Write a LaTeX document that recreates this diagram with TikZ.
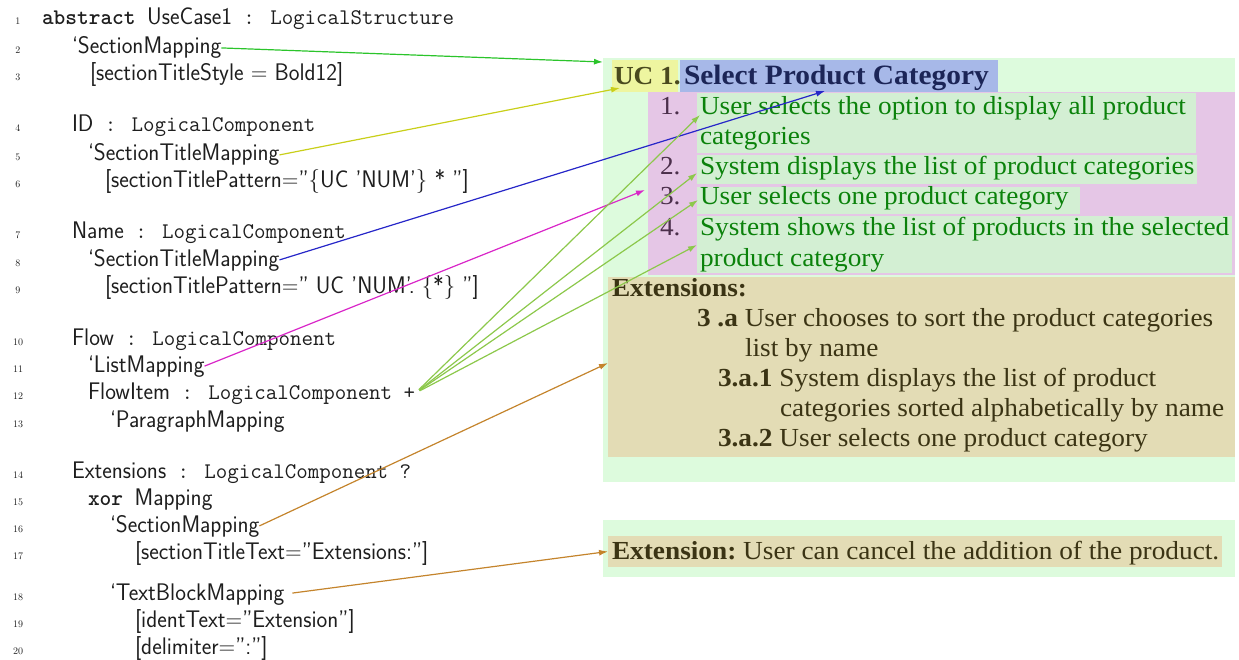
\documentclass[tikz,border=0pt]{standalone}
\usepackage{fontspec}
\usepackage{graphicx}
\usetikzlibrary{arrows.meta,calc}
\newfontfamily\docserif{Liberation Serif}[FakeStretch=1.05]

% palette
\definecolor{codeink}{HTML}{1E1E1E}
\definecolor{pagegreen}{HTML}{DDFBDD}
\definecolor{ucyellow}{HTML}{EEF5A0}
\definecolor{titleblue}{HTML}{A7B8E8}
\definecolor{listpink}{HTML}{E5C6E6}
\definecolor{itemgreen}{HTML}{D3EFD3}
\definecolor{exttan}{HTML}{E3DCB5}
\definecolor{inkgreen}{HTML}{0B820B}
\definecolor{inknavy}{HTML}{1C2557}
\definecolor{inkolive}{HTML}{4A4A1E}
\definecolor{inkpurple}{HTML}{4B2F4B}
\definecolor{inkbrown}{HTML}{3B3414}
\definecolor{lnkgreen}{HTML}{2BC42B}
\definecolor{lnkyellow}{HTML}{C9CF1A}
\definecolor{lnkblue}{HTML}{2626C8}
\definecolor{lnkmagenta}{HTML}{D926C8}
\definecolor{lnkflow}{HTML}{8CC84B}
\definecolor{lnkbrown}{HTML}{C4842C}

% code fonts: narrow sans for names, mono for keywords and types
\newcommand{\csf}[1]{\scalebox{0.95}[1]{\fontsize{24}{28}\selectfont\sffamily #1}}
\newcommand{\ctt}[1]{{\fontsize{22.3}{26}\selectfont\ttfamily #1}}
\newcommand{\ckw}[1]{{\fontsize{22.3}{26}\selectfont\ttfamily\bfseries #1}}

\tikzset{
  code/.style={anchor=base west, inner sep=0pt, outer sep=0pt, text=codeink},
  lineno/.style={anchor=base, inner sep=0pt, text=codeink, font=\fontsize{10}{12}\selectfont},
  panel/.style={anchor=north west, inner sep=0pt, outer sep=0pt, minimum width=#1},
  doc/.style={anchor=base west, inner sep=0pt, outer sep=0pt, font=\docserif\fontsize{26}{30}\selectfont},
  link/.style={-{Latex[length=9pt,width=6pt]}, line width=1.2pt},
}

\begin{document}
\begin{tikzpicture}[x=1pt,y=-1pt]
\useasboundingbox (0,0) rectangle (1239,660);

% ---------- rendered document (right) ----------
\node[panel=632, minimum height=424, fill=pagegreen] (pageA) at (603,58) {};
\node[panel=66,  minimum height=32,  fill=ucyellow]  (ucbox) at (612,60) {};
\node[panel=318, minimum height=32,  fill=titleblue] (titlebox) at (680,60) {};
\node[panel=587, minimum height=183, fill=listpink]  (listbox) at (648,92) {};
\node[panel=499, minimum height=60,  fill=itemgreen] (item1) at (697,93) {};
\node[panel=500, minimum height=29,  fill=itemgreen] (item2) at (697,155) {};
\node[panel=383, minimum height=27,  fill=itemgreen] (item3) at (697,187) {};
\node[panel=535, minimum height=57,  fill=itemgreen] (item4) at (697,216) {};
\node[panel=627, minimum height=180, fill=exttan]    (extbox) at (608,277) {};
\node[panel=632, minimum height=57,  fill=pagegreen] (pageB) at (603,520) {};
\node[panel=614, minimum height=31,  fill=exttan]    (extline) at (608,536) {};

\node[doc, text=inkolive, font=\docserif\bfseries\fontsize{26}{30}\selectfont] (uc) at (614,85) {UC 1.};
\node[doc, text=inknavy, font=\docserif\bfseries\fontsize{28}{30}\selectfont] (title) at (684,85) {Select Product Category};

\node[doc, text=inkpurple] (n1) at (660,115) {1.};
\node[doc, text=inkgreen]  (t1a) at (700,115) {User selects the option to display all product};
\node[doc, text=inkgreen]  (t1b) at (700,145) {categories};
\node[doc, text=inkpurple] (n2) at (660,175) {2.};
\node[doc, text=inkgreen]  (t2) at (700,175) {System displays the list of product categories};
\node[doc, text=inkpurple] (n3) at (660,205) {3.};
\node[doc, text=inkgreen]  (t3) at (700,205) {User selects one product category};
\node[doc, text=inkpurple] (n4) at (660,236) {4.};
\node[doc, text=inkgreen]  (t4a) at (700,236) {System shows the list of products in the selected};
\node[doc, text=inkgreen]  (t4b) at (700,266) {product category};

\node[doc, text=inkbrown] (exthead) at (612,297) {\bfseries Extensions:};
\node[doc, text=inkbrown] (e1a) at (697,326) {\bfseries 3 .a\mdseries\ User chooses to sort the product categories};
\node[doc, text=inkbrown] (e1b) at (745,356) {list by name};
\node[doc, text=inkbrown] (e2a) at (718,386) {\bfseries 3.a.1\mdseries\ System displays the list of product};
\node[doc, text=inkbrown] (e2b) at (780,416) {categories sorted alphabetically by name};
\node[doc, text=inkbrown] (e3) at (718,446) {\bfseries 3.a.2\mdseries\ User selects one product category};
\node[doc, text=inkbrown] (ext) at (612,559) {\bfseries Extension:\mdseries\ User can cancel the addition of the product.};

% ---------- mapping specification (left) ----------
\foreach \n/\y in {1/25,2/54,3/81,4/132,5/161,6/188,7/239,8/266,9/294,10/345,
                   11/372,12/399,13/427,14/478,15/505,16/532,17/559,18/600,19/627,20/654}
  \node[lineno] (num\n) at (18,\y) {\n};

\node[code] (l1)  at (42,25)   {\ckw{abstract}\ctt{ }\csf{UseCase1}\ctt{ : LogicalStructure}};
\node[code] (l2)  at (72,54)   {\csf{‘SectionMapping}};
\node[code] (l3)  at (90,81)   {\csf{[sectionTitleStyle = Bold12]}};
\node[code] (l4)  at (72,132)  {\csf{ID}\ctt{ : LogicalComponent}};
\node[code] (l5)  at (88,161)  {\csf{‘SectionTitleMapping}};
\node[code] (l6)  at (105,188) {\csf{[sectionTitlePattern=”\{UC ’NUM’\} * ”]}};
\node[code] (l7)  at (72,239)  {\csf{Name}\ctt{ : LogicalComponent}};
\node[code] (l8)  at (88,266)  {\csf{‘SectionTitleMapping}};
\node[code] (l9)  at (105,294) {\csf{[sectionTitlePattern=” UC ’NUM’. \{*\} ”]}};
\node[code] (l10) at (72,345)  {\csf{Flow}\ctt{ : LogicalComponent}};
\node[code] (l11) at (88,372)  {\csf{‘ListMapping}};
\node[code] (l12) at (88,399)  {\csf{FlowItem}\ctt{ : LogicalComponent +}};
\node[code] (l13) at (110,427) {\csf{‘ParagraphMapping}};
\node[code] (l14) at (72,478)  {\csf{Extensions}\ctt{ : LogicalComponent ?}};
\node[code] (l15) at (88,505)  {\ckw{xor}\ctt{ }\csf{Mapping}};
\node[code] (l16) at (110,532) {\csf{‘SectionMapping}};
\node[code] (l17) at (135,559) {\csf{[sectionTitleText=”Extensions:”]}};
\node[code] (l18) at (110,600) {\csf{‘TextBlockMapping}};
\node[code] (l19) at (135,627) {\csf{[identText=”Extension”]}};
\node[code] (l20) at (135,654) {\csf{[delimiter=”:”]}};

% ---------- mapping links ----------
\draw[link, lnkgreen]   (l2.east)  -- ($(pageA.north west)+(0,4)$);
\draw[link, lnkyellow]  (l5.east)  -- ($(ucbox.south west)+(8,-4)$);
\draw[link, lnkblue]    (l8.east)  -- ($(titlebox.south west)+(145,-1)$);
\draw[link, lnkmagenta] (l11.east) -- ($(listbox.north west)+(-3,98)$);
\draw[link, lnkflow, shorten <=5pt] (l12.east) -- ($(item1.north west)+(3,22)$);
\draw[link, lnkflow, shorten <=5pt] (l12.east) -- ($(item2.north west)+(0,18)$);
\draw[link, lnkflow, shorten <=5pt] (l12.east) -- ($(item3.north west)+(1,13)$);
\draw[link, lnkflow, shorten <=5pt] (l12.east) -- ($(item4.north west)+(0,29)$);
\draw[link, lnkbrown]   (l16.east) -- ($(extbox.north west)+(0,86)$);
\draw[link, lnkbrown, shorten <=8pt] (l18.east) -- (extline.west);
\end{tikzpicture}
\end{document}
